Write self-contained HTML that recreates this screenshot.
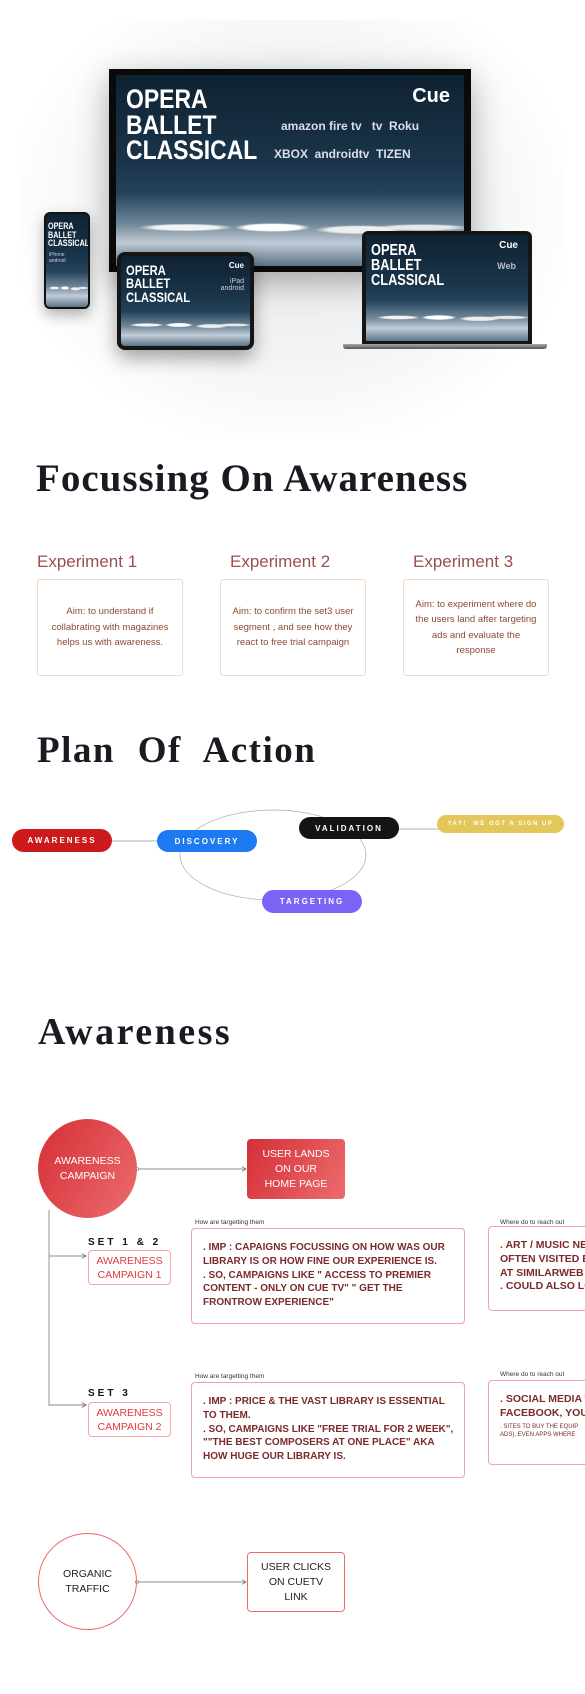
<!DOCTYPE html>
<html><head><meta charset="utf-8"><style>
*{margin:0;padding:0;box-sizing:border-box}
body{width:585px;height:1694px;position:relative;background:#fff;overflow:hidden;font-family:"Liberation Sans",sans-serif}
.a{position:absolute}
.scr{background:linear-gradient(180deg,#0f2232 0%,#1a3449 45%,#24435b 62%,#6f8799 78%,#c1ccd6 88%,#5d7588 100%);overflow:hidden}
.dance{position:absolute;left:0;right:0;background:radial-gradient(ellipse at 20% 50%,#f3f3f3 0 8%,transparent 12%),radial-gradient(ellipse at 45% 50%,#fff 0 10%,transparent 14%),radial-gradient(ellipse at 70% 55%,#eee 0 9%,transparent 13%),radial-gradient(ellipse at 88% 50%,#e8e8e8 0 7%,transparent 11%)}
.ttl{font-family:"Liberation Sans Narrow","Liberation Sans",sans-serif;font-weight:bold;color:#fff;line-height:.95;transform-origin:left top}
.serif{font-family:"Liberation Serif",serif;font-weight:bold;color:#1a1a22}
.exh{color:#9b4f4f;font-size:17px}
.exb{border:1px solid #f6d9c6;border-radius:3px;color:#8a4b30;font-size:9.5px;line-height:15.5px;text-align:center;display:flex;align-items:center;justify-content:center;padding:0 10px}
.pill{border-radius:12px;color:#fff;font-size:8px;font-weight:bold;letter-spacing:2px;display:flex;align-items:center;justify-content:center}
.big{border:1px solid #f1a3a3;border-radius:4px;color:#7a2a2a;font-size:10px;font-weight:bold;line-height:13.8px;padding:12px 11px;overflow:hidden;white-space:nowrap}
.lab{font-size:6.5px;color:#333}
.camp{border:1px solid #f3a8a8;border-radius:4px;color:#e0393c;font-size:10.5px;line-height:14px;text-align:center;display:flex;align-items:center;justify-content:center}
.set{font-size:10px;font-weight:bold;letter-spacing:3px;color:#111}
</style></head><body>
<div class="a" style="left:20px;top:20px;width:545px;height:420px;background:radial-gradient(ellipse at 50% 45%,#e4e6e8 0%,#f2f3f4 45%,#fff 75%)"></div>

<!-- TV -->
<div class="a" style="left:109px;top:69px;width:362px;height:203px;background:#0a0a0a;box-shadow:0 10px 30px rgba(0,0,0,.3)"></div>
<div class="a scr" style="left:116px;top:75px;width:348px;height:191px">
<div class="dance" style="top:130px;height:45px"></div>
<div class="a ttl" style="left:10px;top:12px;font-size:27px;transform:scaleX(.85)">OPERA<br>BALLET<br>CLASSICAL</div>
<div class="a" style="right:14px;top:10px;color:#fff;font-weight:bold;font-size:20px">Cue</div>
<div class="a" style="left:165px;top:44px;color:#dde;font-size:12px;font-weight:bold;white-space:nowrap">amazon fire tv &nbsp; tv &nbsp;Roku</div>
<div class="a" style="left:158px;top:72px;color:#dde;font-size:12px;font-weight:bold;white-space:nowrap">XBOX &nbsp;androidtv &nbsp;TIZEN</div>
</div>

<!-- phone -->
<div class="a" style="left:44px;top:212px;width:46px;height:97px;background:#111;border-radius:6px;box-shadow:0 6px 14px rgba(0,0,0,.3)"></div>
<div class="a scr" style="left:46px;top:214px;width:42px;height:93px;border-radius:4px">
<div class="a ttl" style="left:2px;top:8px;font-size:9px;transform:scaleX(.8)">OPERA<br>BALLET<br>CLASSICAL</div>
<div class="a" style="left:3px;top:38px;color:#ccd;font-size:5px">iPhone<br>android</div>
<div class="dance" style="top:65px;height:18px"></div>
</div>

<!-- tablet -->
<div class="a" style="left:117px;top:252px;width:137px;height:98px;background:#151515;border-radius:8px;box-shadow:0 8px 18px rgba(0,0,0,.35)"></div>
<div class="a scr" style="left:121px;top:256px;width:129px;height:90px;border-radius:4px">
<div class="a ttl" style="left:5px;top:8px;font-size:14px;transform:scaleX(.8)">OPERA<br>BALLET<br>CLASSICAL</div>
<div class="a" style="right:6px;top:5px;color:#fff;font-weight:bold;font-size:8px">Cue</div>
<div class="a" style="right:6px;top:22px;color:#ccd;font-size:7px;text-align:right">iPad<br>android</div>
<div class="dance" style="top:58px;height:22px"></div>
</div>

<!-- laptop -->
<div class="a" style="left:362px;top:231px;width:170px;height:114px;background:#151515;border-radius:6px 6px 0 0"></div>
<div class="a scr" style="left:366px;top:235px;width:162px;height:106px">
<div class="a ttl" style="left:5px;top:8px;font-size:16px;transform:scaleX(.8)">OPERA<br>BALLET<br>CLASSICAL</div>
<div class="a" style="right:10px;top:5px;color:#fff;font-weight:bold;font-size:10px">Cue</div>
<div class="a" style="right:12px;top:26px;color:#bbc;font-size:9px;font-weight:bold">Web</div>
<div class="dance" style="top:70px;height:25px"></div>
</div>
<div class="a" style="left:343px;top:344px;width:204px;height:5px;background:linear-gradient(#aaa,#555);border-radius:0 0 3px 3px"></div>

<div class="a serif" style="left:36px;top:456px;font-size:39px;letter-spacing:1px;white-space:nowrap">Focussing On Awareness</div>

<!-- experiments -->
<div class="a exh" style="left:37px;top:552px">Experiment 1</div>
<div class="a exh" style="left:230px;top:552px">Experiment 2</div>
<div class="a exh" style="left:413px;top:552px">Experiment 3</div>
<div class="a exb" style="left:37px;top:579px;width:146px;height:97px">Aim: to understand if collabrating with magazines helps us with awareness.</div>
<div class="a exb" style="left:220px;top:579px;width:146px;height:97px">Aim: to confirm the set3 user segment , and see how they react to free trial campaign</div>
<div class="a exb" style="left:403px;top:579px;width:146px;height:97px">Aim: to experiment where do the users land after targeting ads and evaluate the response</div>

<div class="a serif" style="left:37px;top:729px;font-size:37px;letter-spacing:1.5px;word-spacing:12px;white-space:nowrap">Plan Of Action</div>

<svg class="a" style="left:0;top:790px" width="585" height="140">
<ellipse cx="273" cy="65" rx="93" ry="45" fill="none" stroke="#aaa" stroke-width="0.7"/>
<line x1="100" y1="51" x2="160" y2="51" stroke="#999" stroke-width="0.7"/>
<line x1="398" y1="39" x2="440" y2="39" stroke="#999" stroke-width="0.7"/>
</svg>
<div class="a pill" style="left:12px;top:829px;width:100px;height:23px;background:#cc1a1c">AWARENESS</div>
<div class="a pill" style="left:157px;top:830px;width:100px;height:22px;background:#1d7af0">DISCOVERY</div>
<div class="a pill" style="left:299px;top:817px;width:100px;height:22px;background:#141414">VALIDATION</div>
<div class="a pill" style="left:437px;top:815px;width:127px;height:18px;background:#e3c75a;font-size:6px;letter-spacing:1.5px">YAY!&nbsp; WE GOT A SIGN UP</div>
<div class="a pill" style="left:262px;top:890px;width:100px;height:23px;background:#7c63f5">TARGETING</div>

<div class="a serif" style="left:38px;top:1010px;font-size:38px;letter-spacing:2.5px">Awareness</div>

<!-- diagram -->
<svg class="a" style="left:0;top:1100px" width="585" height="560">
<defs><marker id="ar" markerWidth="6" markerHeight="6" refX="5" refY="3" orient="auto"><path d="M0,0 L5,3 L0,6" fill="none" stroke="#555" stroke-width="0.8"/></marker></defs>
<line x1="137" y1="69" x2="246" y2="69" stroke="#666" stroke-width="0.8" marker-end="url(#ar)"/>
<circle cx="137" cy="69" r="1.5" fill="#fff" stroke="#666" stroke-width="0.6"/>
<polyline points="49,110 49,305 86,305" fill="none" stroke="#888" stroke-width="0.9" marker-end="url(#ar)"/>
<line x1="49" y1="156" x2="86" y2="156" stroke="#666" stroke-width="0.8" marker-end="url(#ar)"/>
<line x1="137" y1="482" x2="246" y2="482" stroke="#666" stroke-width="0.8" marker-end="url(#ar)"/>
<circle cx="137" cy="482" r="1.5" fill="#fff" stroke="#666" stroke-width="0.6"/>
</svg>
<div class="a" style="left:38px;top:1119px;width:99px;height:99px;border-radius:50%;background:linear-gradient(120deg,#d42f36,#ec6c6e);color:#fff;font-size:10.5px;line-height:15px;display:flex;align-items:center;justify-content:center;text-align:center">AWARENESS<br>CAMPAIGN</div>
<div class="a" style="left:247px;top:1139px;width:98px;height:60px;border-radius:4px;background:linear-gradient(120deg,#d42f36,#ec6c6e);color:#fff;font-size:10.5px;line-height:15px;display:flex;align-items:center;justify-content:center;text-align:center">USER LANDS<br>ON OUR<br>HOME PAGE</div>

<div class="a set" style="left:88px;top:1237px">SET 1 &amp; 2</div>
<div class="a camp" style="left:88px;top:1250px;width:83px;height:35px">AWARENESS<br>CAMPAIGN 1</div>
<div class="a lab" style="left:195px;top:1219px">How are targetting them</div>
<div class="a big" style="left:191px;top:1228px;width:274px;height:96px">. IMP : CAPAIGNS FOCUSSING ON HOW WAS OUR<br>LIBRARY IS OR HOW FINE OUR EXPERIENCE IS.<br>. SO, CAMPAIGNS LIKE " ACCESS TO PREMIER<br>CONTENT - ONLY ON CUE TV" " GET THE<br>FRONTROW EXPERIENCE"</div>
<div class="a lab" style="left:500px;top:1219px;white-space:nowrap">Where do to reach out</div>
<div class="a big" style="left:488px;top:1226px;width:110px;height:85px;font-size:10.5px">. ART / MUSIC NEWS<br>OFTEN VISITED BY<br>AT SIMILARWEB<br>. COULD ALSO LOOK</div>

<div class="a set" style="left:88px;top:1388px">SET 3</div>
<div class="a camp" style="left:88px;top:1402px;width:83px;height:35px">AWARENESS<br>CAMPAIGN 2</div>
<div class="a lab" style="left:195px;top:1373px">How are targetting them</div>
<div class="a big" style="left:191px;top:1382px;width:274px;height:96px">. IMP : PRICE &amp; THE VAST LIBRARY IS ESSENTIAL<br>TO THEM.<br>. SO, CAMPAIGNS LIKE "FREE TRIAL FOR 2 WEEK",<br>""THE BEST COMPOSERS AT ONE PLACE" AKA<br>HOW HUGE OUR LIBRARY IS.</div>
<div class="a lab" style="left:500px;top:1371px;white-space:nowrap">Where do to reach out</div>
<div class="a big" style="left:488px;top:1380px;width:110px;height:85px;font-size:10.5px">. SOCIAL MEDIA WITH<br>FACEBOOK, YOUTUBE<br><span style="font-size:6px;font-weight:normal;line-height:8px;display:block;margin-top:2px">. SITES TO BUY THE EQUIP<br>ADS), EVEN APPS WHERE</span></div>

<div class="a" style="left:38px;top:1533px;width:99px;height:97px;border-radius:50%;border:1px solid #ee6a6a;color:#222;font-size:10.5px;line-height:15px;display:flex;align-items:center;justify-content:center;text-align:center">ORGANIC<br>TRAFFIC</div>
<div class="a" style="left:247px;top:1552px;width:98px;height:60px;border-radius:4px;border:1px solid #ee6a6a;color:#222;font-size:10.5px;line-height:15px;display:flex;align-items:center;justify-content:center;text-align:center">USER CLICKS<br>ON CUETV<br>LINK</div>
</body></html>
